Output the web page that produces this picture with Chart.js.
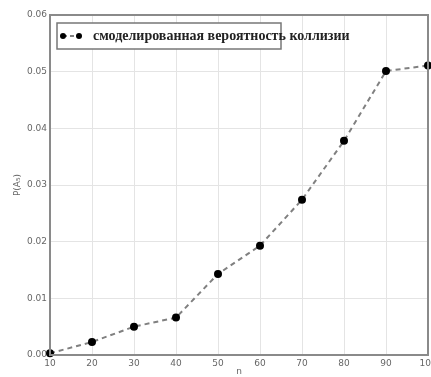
<!DOCTYPE html>
<html>
<head>
<meta charset="utf-8">
<script src="https://cdn.jsdelivr.net/npm/chart.js@4.4.0/dist/chart.umd.min.js"></script>
<style>
  html, body { margin: 0; padding: 0; background: #fff; }
  #wrap { width: 431px; height: 377px; }
</style>
</head>
<body>
<div id="wrap"><canvas id="grafico"></canvas></div>
<script>
// данные с графика
const valoresN = [10, 20, 30, 40, 50, 60, 70, 80, 90, 100];
const probabilidades = [0.0003, 0.0023, 0.0050, 0.0066, 0.0143, 0.0193, 0.0274, 0.0378, 0.0501, 0.0511];
const rotuloSerie = 'смоделированная вероятность коллизии';
const rotuloX = 'n';
const rotuloY = 'P(A\u2085)';

const pontos = valoresN.map((n, i) => ({ x: n, y: probabilidades[i] }));

// moldura cinza em volta da área do gráfico
const moldura = {
  id: 'moldura',
  afterDraw(chart) {
    const { ctx, chartArea: a } = chart;
    ctx.save();
    ctx.strokeStyle = '#8a8a8a';
    ctx.lineWidth = 2;
    ctx.strokeRect(a.left, a.top, a.right - a.left, a.bottom - a.top);
    ctx.restore();
  }
};

// legenda dentro do gráfico, como no original
const legendaInterna = {
  id: 'legendaInterna',
  afterDraw(chart) {
    const { ctx } = chart;
    const ds = chart.data.datasets[0];
    ctx.save();
    ctx.fillStyle = '#fff';
    ctx.fillRect(57, 23, 224, 26);
    ctx.strokeStyle = '#777';
    ctx.lineWidth = 1.5;
    ctx.strokeRect(57, 23, 224, 26);
    ctx.strokeStyle = ds.borderColor;
    ctx.lineWidth = 2;
    ctx.setLineDash([4, 3]);
    ctx.beginPath();
    ctx.moveTo(63, 36);
    ctx.lineTo(79, 36);
    ctx.stroke();
    ctx.setLineDash([]);
    ctx.fillStyle = ds.pointBackgroundColor;
    [63, 79].forEach(x => {
      ctx.beginPath();
      ctx.arc(x, 36, 3, 0, Math.PI * 2);
      ctx.fill();
    });
    ctx.fillStyle = '#222';
    ctx.font = 'bold 14px "Liberation Serif"';
    ctx.textBaseline = 'middle';
    ctx.fillText(ds.label, 93, 36);
    ctx.restore();
  }
};

const fonteTicks = { family: 'DejaVu Sans', size: 9 };

new Chart(document.getElementById('grafico').getContext('2d'), {
  type: 'line',
  data: {
    datasets: [{
      label: rotuloSerie,
      data: pontos,
      borderColor: '#808080',
      borderWidth: 2,
      borderDash: [5, 4],
      pointBackgroundColor: '#000',
      pointBorderColor: '#000',
      pointRadius: 3,
      tension: 0,
      fill: false,
      clip: false
    }]
  },
  options: {
    responsive: true,
    maintainAspectRatio: false,
    animation: false,
    layout: { autoPadding: false, padding: { top: 15, right: 3, left: 0, bottom: 0 } },
    plugins: { legend: { display: false }, tooltip: { enabled: false } },
    scales: {
      x: {
        type: 'linear',
        min: 10,
        max: 100,
        ticks: { stepSize: 10, color: '#666', font: fonteTicks, padding: 3, maxRotation: 0 },
        grid: { color: '#e4e4e4', drawTicks: false },
        border: { display: false },
        title: { display: true, text: rotuloX, color: '#666', font: fonteTicks, padding: 0 },
        afterFit(scale) {
          scale.height = 22;
          scale.paddingLeft = 0;
          scale.paddingRight = 0;
        }
      },
      y: {
        min: 0,
        max: 0.06,
        ticks: {
          stepSize: 0.01, color: '#666', font: fonteTicks, padding: 3,
          callback: v => v.toFixed(2)
        },
        grid: { color: '#e4e4e4', drawTicks: false },
        border: { display: false },
        title: { display: true, text: rotuloY, color: '#666', font: fonteTicks, padding: { top: 12, bottom: 0 } },
        afterFit(scale) {
          scale.width = 50;
          scale.paddingTop = 0;
          scale.paddingBottom = 0;
        }
      }
    }
  },
  plugins: [moldura, legendaInterna]
});
</script>
</body>
</html>
